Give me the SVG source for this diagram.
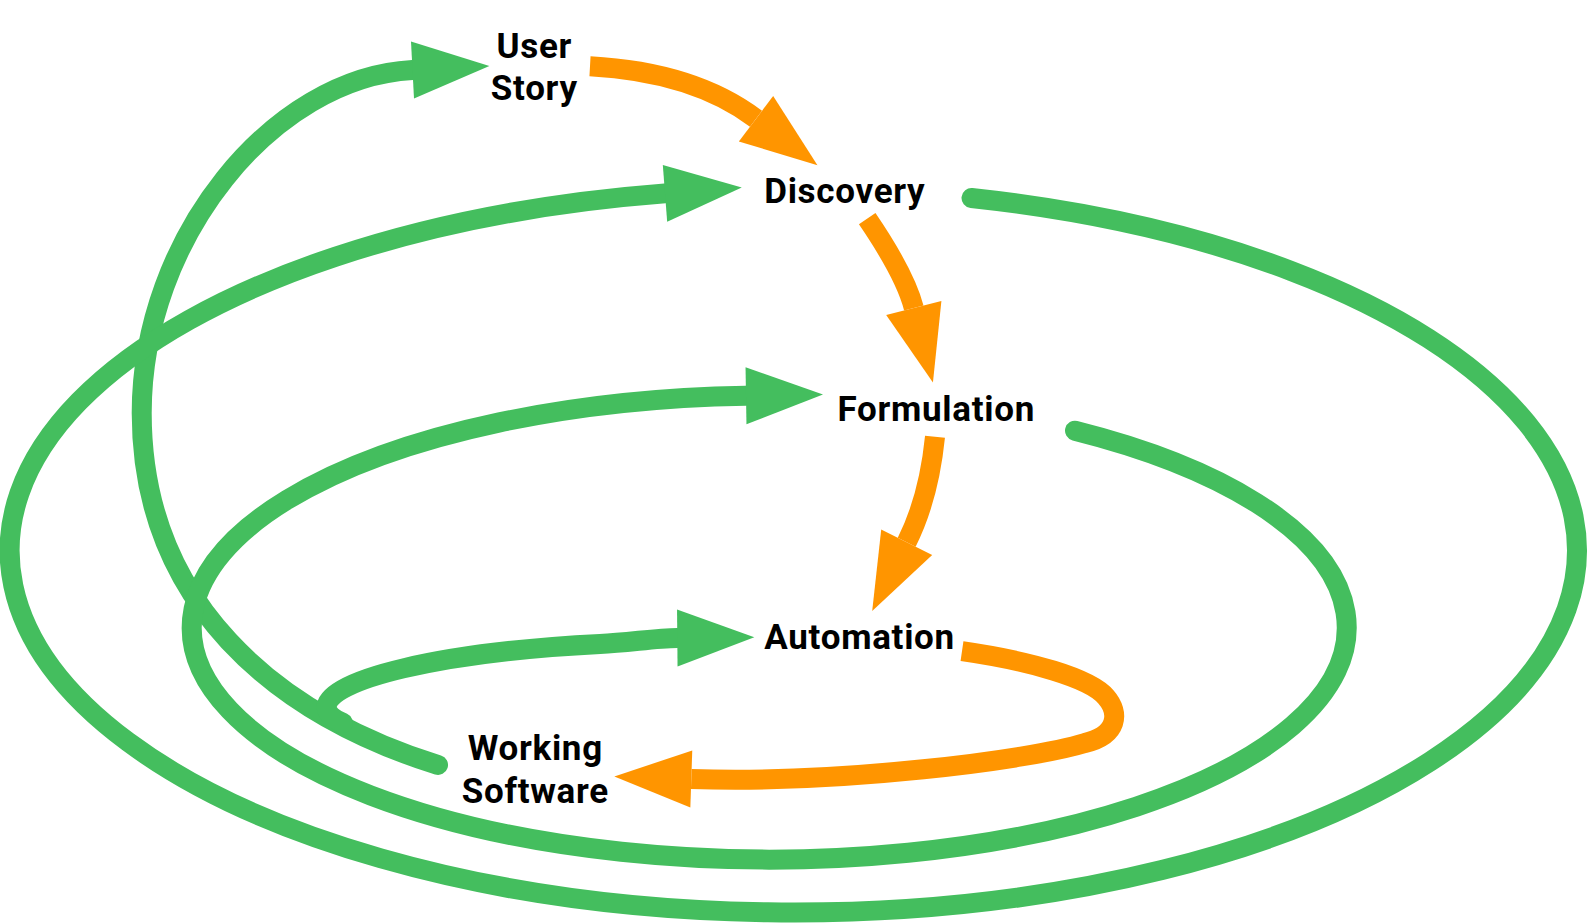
<svg xmlns="http://www.w3.org/2000/svg" width="1588" height="923" viewBox="0 0 1588 923">
<style>
.g{fill:none;stroke:#44BE5E;stroke-width:20;stroke-linecap:round}
.o{fill:none;stroke:#FF9500;stroke-width:20;stroke-linecap:butt}
.lbl{font-family:Roboto,"Liberation Sans",sans-serif;font-weight:700;font-size:35px;letter-spacing:0.7px;fill:#000;text-anchor:middle}
</style>
<defs>
<marker id="ag" markerUnits="userSpaceOnUse" markerWidth="77" markerHeight="57" refX="0" refY="28.5" orient="auto" overflow="visible"><path d="M0,0 L77,28.5 L0,57 Z" fill="#44BE5E"/></marker>
<marker id="ao" markerUnits="userSpaceOnUse" markerWidth="77" markerHeight="57" refX="0" refY="28.5" orient="auto" overflow="visible"><path d="M0,0 L77,28.5 L0,57 Z" fill="#FF9500"/></marker>
</defs>
<rect width="1588" height="923" fill="#fff"/>
<g id="connectors">
<path id="e-software-story" class="g" marker-end="url(#ag)" d="M438,765 C275.5,714 141.7,603 141.7,413 C141.7,238 272.8,77.4 412.5,70"/>
<path id="e-discovery-loop" class="g" marker-end="url(#ag)" d="M971.5,198 A783.7,362 0 1 1 665,193.4"/>
<path id="e-formulation-loop" class="g" marker-end="url(#ag)" d="M1075,430.7 A577.5,232 0 1 1 746,395.7"/>
<path id="e-automation-loop" class="g" marker-end="url(#ag)" d="M343,723 C334,719 326.7,714 326.7,707 C326.7,680 440,652 600,644 C630,642.5 655,638.2 677.3,638"/>
<path id="e-story-discovery" class="o" marker-end="url(#ao)" d="M590,66.3 Q694,72 756,118.8"/>
<path id="e-discovery-formulation" class="o" marker-end="url(#ao)" d="M867.2,218.7 Q905.2,274.5 913.8,308"/>
<path id="e-formulation-automation" class="o" marker-end="url(#ao)" d="M935,436.7 Q928.8,498.1 906.7,542.2"/>
<path id="e-automation-software" class="o" marker-end="url(#ao)" d="M962,651.2 C1030,661 1090,678 1106,697 C1120,713 1118,735 1085,743 C1030,760 840,784 691.3,779"/>
</g>
<g id="node-user-story"><text class="lbl" x="534.3" y="58.3">User</text><text class="lbl" x="534.3" y="100.3">Story</text></g>
<g id="node-discovery"><text class="lbl" x="844.8" y="203.3">Discovery</text></g>
<g id="node-formulation"><text class="lbl" x="936.3" y="421.3">Formulation</text></g>
<g id="node-automation"><text class="lbl" x="859.6" y="648.5">Automation</text></g>
<g id="node-working-software"><text class="lbl" x="535.3" y="760">Working</text><text class="lbl" x="535.3" y="803.3">Software</text></g>
</svg>
